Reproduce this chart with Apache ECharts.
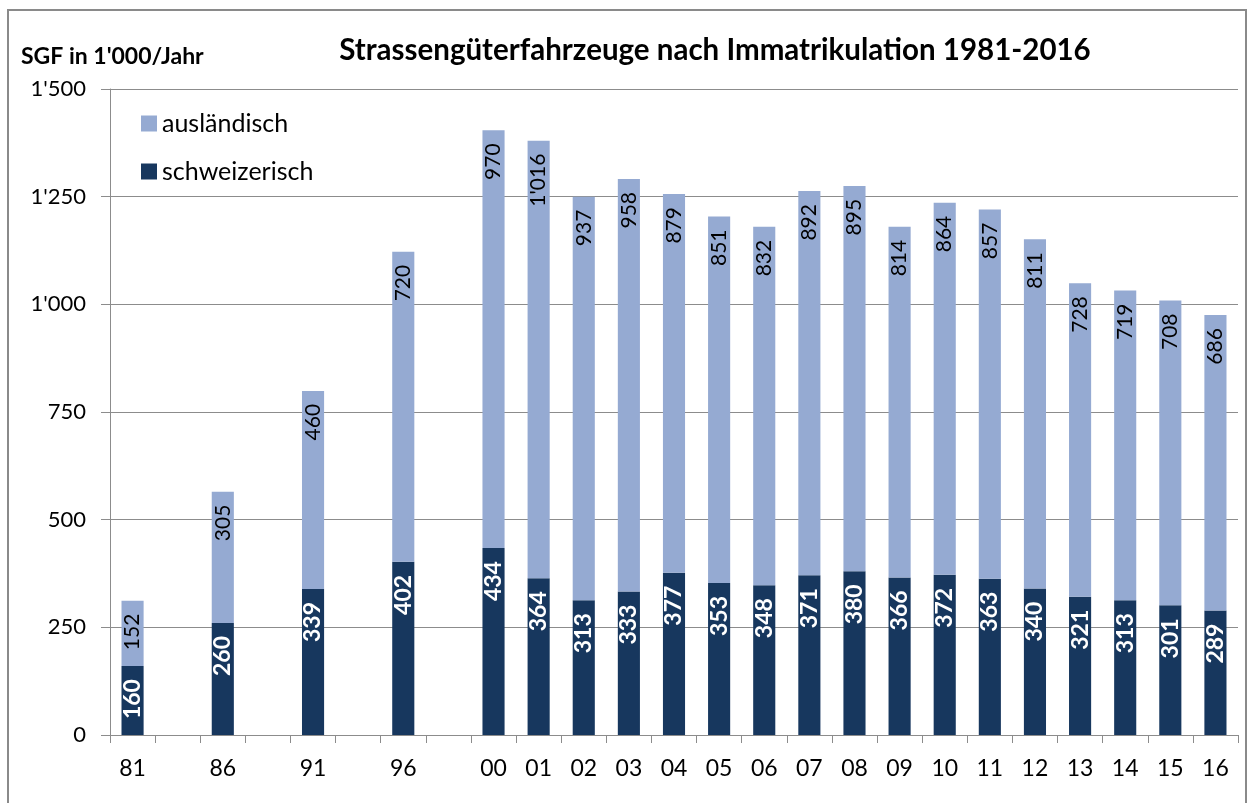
<!DOCTYPE html>
<html><head><meta charset="utf-8">
<script src="https://cdn.jsdelivr.net/npm/echarts@6/dist/echarts.min.js"></script>
<style>html,body{margin:0;padding:0;background:#fff}#c{width:1253px;height:803px}</style>
</head><body><div id="c"></div>
<script>
const categories = ['81','','86','','91','','96','','00','01','02','03','04','05','06','07','08','09','10','11','12','13','14','15','16'];
const schweizerisch = [160,null,260,null,339,null,402,null,434,364,313,333,377,353,348,371,380,366,372,363,340,321,313,301,289];
const auslaendisch = [152,null,305,null,460,null,720,null,970,1016,937,958,879,851,832,892,895,814,864,857,811,728,719,708,686];
const yTicks = [0,250,500,750,1000,1250,1500];

const fmt = v => { const s = String(Math.round(v)); return s.length > 3 ? s.slice(0, -3) + "'" + s.slice(-3) : s; };
const FONT = 'Lato';
const chart = echarts.init(document.getElementById('c'));
chart.setOption({
  animation: false,
  textStyle: { fontFamily: FONT },
  title: [
    { text: 'Strassengüterfahrzeuge nach Immatrikulation 1981-2016', left: 710, textAlign: 'center', top: 30,
      textStyle: { fontSize: 29.5, fontWeight: 'bold', color: '#000', fontFamily: FONT } },
    { text: "SGF in 1'000/Jahr", left: 16, top: 40,
      textStyle: { fontSize: 23, fontWeight: 'bold', color: '#000', fontFamily: FONT } }
  ],
  graphic: [{ type: 'rect', shape: { x: 8, y: 10, width: 1238, height: 810 }, style: { fill: 'none', stroke: '#8a8a8a', lineWidth: 2 }, silent: true }],
  legend: {
    orient: 'vertical', left: 136, top: 106, itemWidth: 16, itemHeight: 16, itemGap: 23, icon: 'rect',
    data: ['ausländisch', 'schweizerisch'],
    textStyle: { fontSize: 25, color: '#000', fontFamily: FONT }
  },
  grid: { left: 110, right: 15, top: 89, bottom: 68, containLabel: false },
  xAxis: {
    type: 'category', data: categories,
    axisLine: { lineStyle: { color: '#8c8c8c', width: 1 } },
    axisTick: { show: true, length: 8, lineStyle: { color: '#8c8c8c' }, interval: 0 },
    axisLabel: { fontSize: 23, color: '#000', margin: 22, interval: 0 }
  },
  yAxis: {
    type: 'value', min: 0, max: 1500, interval: 250,
    axisLine: { show: true, lineStyle: { color: '#8c8c8c' } },
    axisTick: { show: true, length: 9, lineStyle: { color: '#8c8c8c' } },
    splitLine: { lineStyle: { color: '#8c8c8c' } },
    axisLabel: { fontSize: 22, color: '#000', margin: 24, formatter: v => yTicks.includes(v) ? fmt(v) : '' }
  },
  series: [
    { name: 'schweizerisch', type: 'bar', stack: 's', data: schweizerisch, barWidth: '49%',
      itemStyle: { color: '#17375e' },
      label: { show: true, position: 'insideTop', distance: 13, rotate: 90, align: 'right', verticalAlign: 'middle',
        color: '#fff', fontWeight: 'bold', fontSize: 23, formatter: p => fmt(p.value) } },
    { name: 'ausländisch', type: 'bar', stack: 's', data: auslaendisch, barWidth: '49%',
      itemStyle: { color: '#95aad2' },
      label: { show: true, position: 'insideTop', distance: 13, rotate: 90, align: 'right', verticalAlign: 'middle',
        color: '#000', fontSize: 21, formatter: p => fmt(p.value) } }
  ]
});
</script></body></html>
